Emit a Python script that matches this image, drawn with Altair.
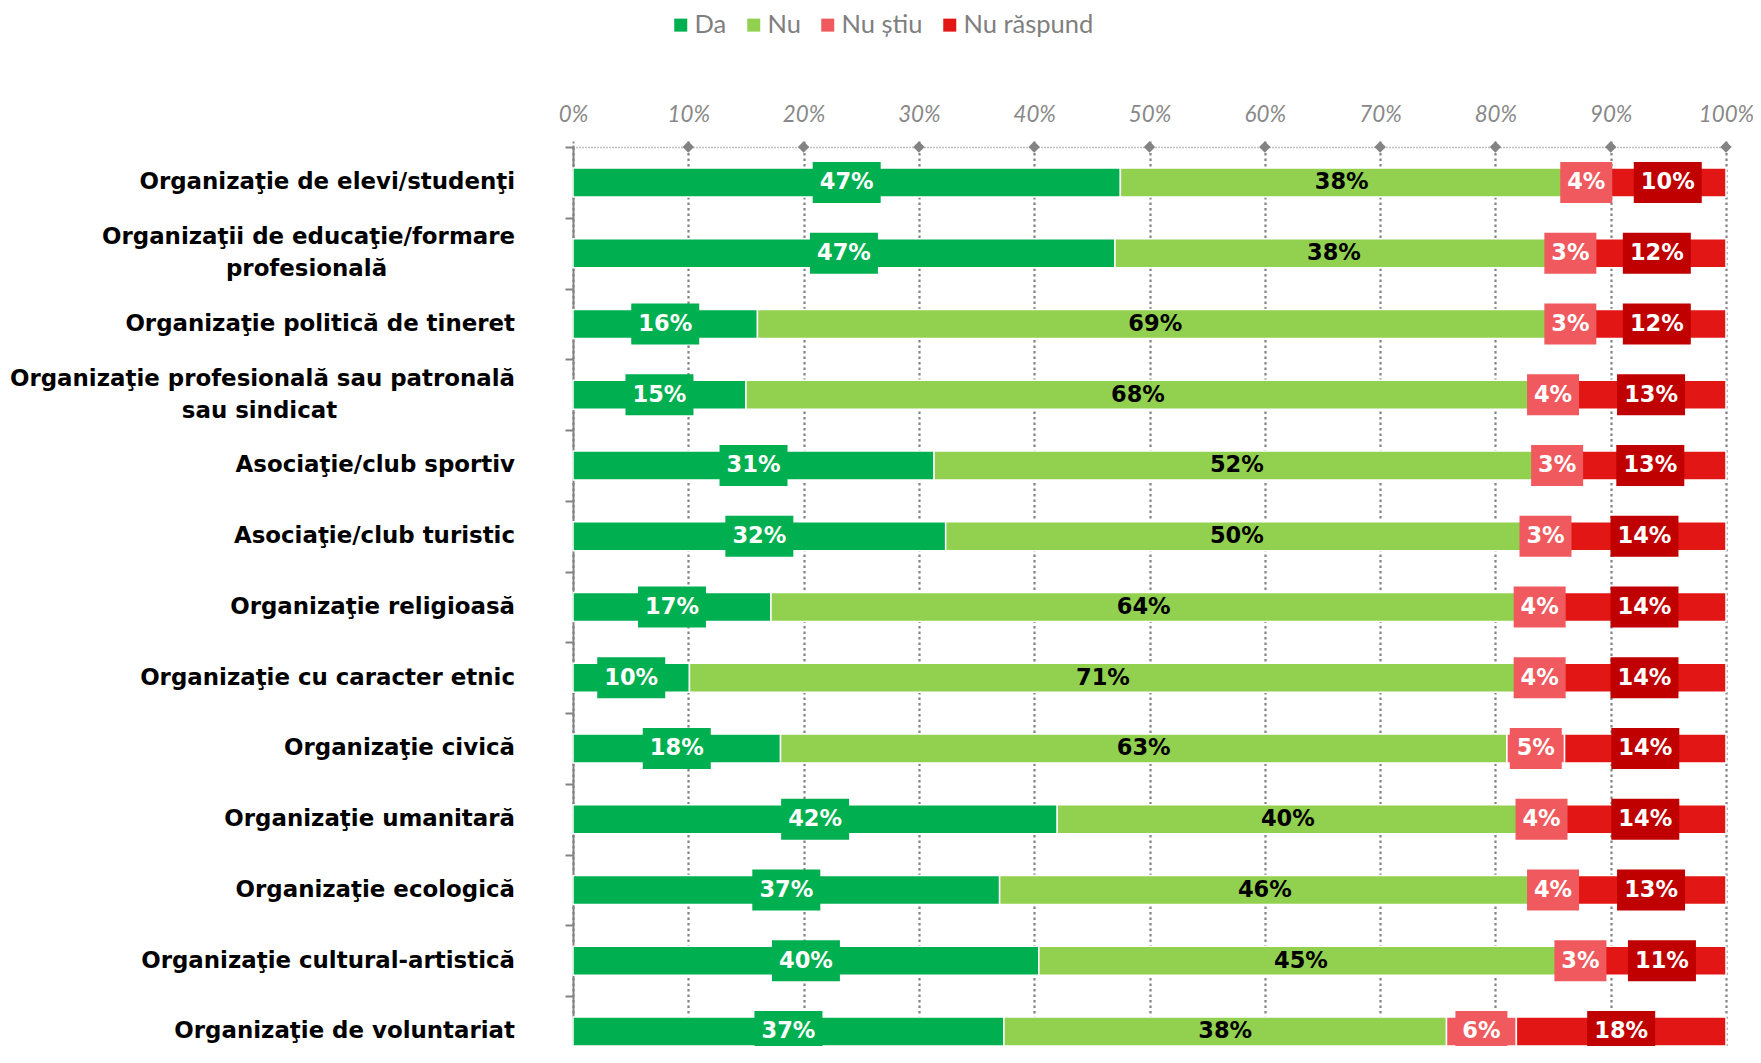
import altair as alt
import pandas as pd

# ---------------- data ----------------
categories = [
    "Organizaţie de elevi/studenţi",
    "Organizaţii de educaţie/formare\nprofesională",
    "Organizaţie politică de tineret",
    "Organizaţie profesională sau patronală\nsau sindicat",
    "Asociaţie/club sportiv",
    "Asociaţie/club turistic",
    "Organizaţie religioasă",
    "Organizaţie cu caracter etnic",
    "Organizaţie civică",
    "Organizaţie umanitară",
    "Organizaţie ecologică",
    "Organizaţie cultural-artistică",
    "Organizaţie de voluntariat",
]
series = ["Da", "Nu", "Nu știu", "Nu răspund"]
da = [47, 47, 16, 15, 31, 32, 17, 10, 18, 42, 37, 40, 37]
nu = [38, 38, 69, 68, 52, 50, 64, 71, 63, 40, 46, 45, 38]
nu_stiu = [4, 3, 3, 4, 3, 3, 4, 4, 5, 4, 4, 3, 6]
nu_raspund = [10, 12, 12, 13, 13, 14, 14, 14, 14, 14, 13, 11, 18]
x_ticks = [0, 0.1, 0.2, 0.3, 0.4, 0.5, 0.6, 0.7, 0.8, 0.9, 1.0]

# ---------------- styling ----------------
bar_colors = ["#00B050", "#92D050", "#F05A5E", "#E31616"]
box_colors = ["#00B050", "#92D050", "#F05A5E", "#C00000"]
GRAY = "#838383"
PLOT_W = 1153
VIEW_H = 899
STEP = 70.75      # px per category row
BAR_PX = 29
BOX_PX = 41
LINE_PX = 32
LABEL_GAP = 58
CHAR_PX = 13.45
PAD_LEFT = 565

rows = []
for s_i, (s, vals) in enumerate(zip(series, [da, nu, nu_stiu, nu_raspund])):
    for r, v in enumerate(vals):
        rows.append({"row": r, "series": s, "order": s_i, "value": v})
df = pd.DataFrame(rows)

lab_rows = []
for i, name in enumerate(categories):
    lines = name.split("\n")
    for j, t in enumerate(lines):
        lab_rows.append({"row": i, "text": t, "line": j, "nlines": len(lines), "first": lines[0]})
labdf = pd.DataFrame(lab_rows)

xscale = alt.Scale(domain=[0, 1], nice=False, zero=False)
yscale = alt.Scale(domain=[0, VIEW_H / STEP], nice=False, zero=False, reverse=True)

xaxis = alt.Axis(
    orient="top", values=x_ticks, format=".0%", title=None,
    labelFont="Lato", labelFontStyle="italic", labelFontSize=22.3, labelColor="#888888",
    labelPadding=14, labelFlush=False, labelOverlap=False,
    grid=True, gridColor=GRAY, gridDash=[2.5, 3], gridWidth=2.2,
    domainColor=GRAY, domainDash=[1, 2], domainWidth=1.5,
    tickColor=GRAY, tickDash=[2, 2], tickSize=7, tickWidth=2,
)
yaxis = alt.Axis(
    values=list(range(len(categories))), labels=False, title=None, grid=False,
    domainColor=GRAY, domainWidth=2, tickColor=GRAY, tickWidth=2, tickSize=8,
)

base = (
    alt.Chart(df)
    .transform_joinaggregate(total="sum(value)", groupby=["row"])
    .transform_calculate(pct="datum.value / datum.total")
    .transform_stack(stack="pct", as_=["x0", "x1"], groupby=["row"],
                     sort=[alt.SortField("order", order="ascending")])
    .transform_calculate(
        mid="(datum.x0 + datum.x1) / 2",
        label="datum.value + '%'",
        yb0=f"datum.row + 0.5 - {BAR_PX / 2 / STEP}",
        yb1=f"datum.row + 0.5 + {BAR_PX / 2 / STEP}",
        yx0=f"datum.row + 0.5 - {BOX_PX / 2 / STEP}",
        yx1=f"datum.row + 0.5 + {BOX_PX / 2 / STEP}",
        yc="datum.row + 0.5",
    )
)

bars = base.mark_rect(stroke="white", strokeWidth=1.5).encode(
    x=alt.X("x0:Q", scale=xscale, axis=xaxis),
    x2="x1:Q",
    y=alt.Y("yb0:Q", scale=yscale, axis=yaxis),
    y2="yb1:Q",
    color=alt.Color(
        "series:N",
        scale=alt.Scale(domain=series, range=bar_colors),
        legend=alt.Legend(
            orient="none", legendX=95, legendY=-135, direction="horizontal", title=None,
            symbolType="square", symbolSize=169, symbolStrokeWidth=0,
            labelFont="Lato", labelFontSize=25.5, labelColor="#7f7f7f",
            labelOffset=1, columnPadding=14,
        ),
    ),
)

boxes = (
    base.transform_filter("datum.series != 'Nu'")
    .transform_calculate(hw=f"(16 * length(datum.label) + 20) / 2 / {PLOT_W}")
    .transform_calculate(bx0="datum.mid - datum.hw", bx1="datum.mid + datum.hw")
    .mark_rect()
    .encode(
        x=alt.X("bx0:Q", scale=xscale),
        x2="bx1:Q",
        y=alt.Y("yx0:Q", scale=yscale),
        y2="yx1:Q",
        color=alt.Color("series:N", scale=alt.Scale(domain=series, range=box_colors), legend=None),
    )
)

values_text = base.mark_text(font="DejaVu Sans", fontSize=22.5, fontWeight="bold", baseline="middle").encode(
    x=alt.X("mid:Q", scale=xscale),
    y=alt.Y("yc:Q", scale=yscale),
    text="label:N",
    color=alt.condition(alt.datum.series == "Nu", alt.value("black"), alt.value("white")),
)

diamonds = alt.Chart(pd.DataFrame({"t": x_ticks[1:]})).mark_point(
    shape="diamond", filled=True, size=130, color=GRAY, opacity=1
).encode(x=alt.X("t:Q", scale=xscale), y=alt.value(0))

labbase = alt.Chart(labdf).transform_calculate(
    ylab=f"datum.row + 0.5 + (datum.line - (datum.nlines - 1) / 2) * {LINE_PX / STEP}",
    xl=f"datum.line == 0 ? {-LABEL_GAP / PLOT_W} : ({-LABEL_GAP} - length(datum.first) * {CHAR_PX} / 2) / {PLOT_W}",
)
lab1 = labbase.transform_filter("datum.line == 0").mark_text(
    font="DejaVu Sans", fontSize=22.9, fontWeight="bold", align="right", baseline="middle", color="black"
).encode(x=alt.X("xl:Q", scale=xscale), y=alt.Y("ylab:Q", scale=yscale), text="text:N")
lab2 = labbase.transform_filter("datum.line == 1").mark_text(
    font="DejaVu Sans", fontSize=22.9, fontWeight="bold", align="center", baseline="middle", color="black"
).encode(x=alt.X("xl:Q", scale=xscale), y=alt.Y("ylab:Q", scale=yscale), text="text:N")

chart = (
    alt.layer(bars, boxes, values_text, diamonds, lab1, lab2)
    .resolve_scale(color="independent")
    .properties(
        width=PLOT_W, height=VIEW_H,
        autosize=alt.AutoSizeParams(type="none"),
        padding={"left": PAD_LEFT, "top": 139, "right": 27, "bottom": 0},
    )
    .configure_view(stroke=None)
)

chart.save("out.html", embed_options={"renderer": "svg", "actions": False})
